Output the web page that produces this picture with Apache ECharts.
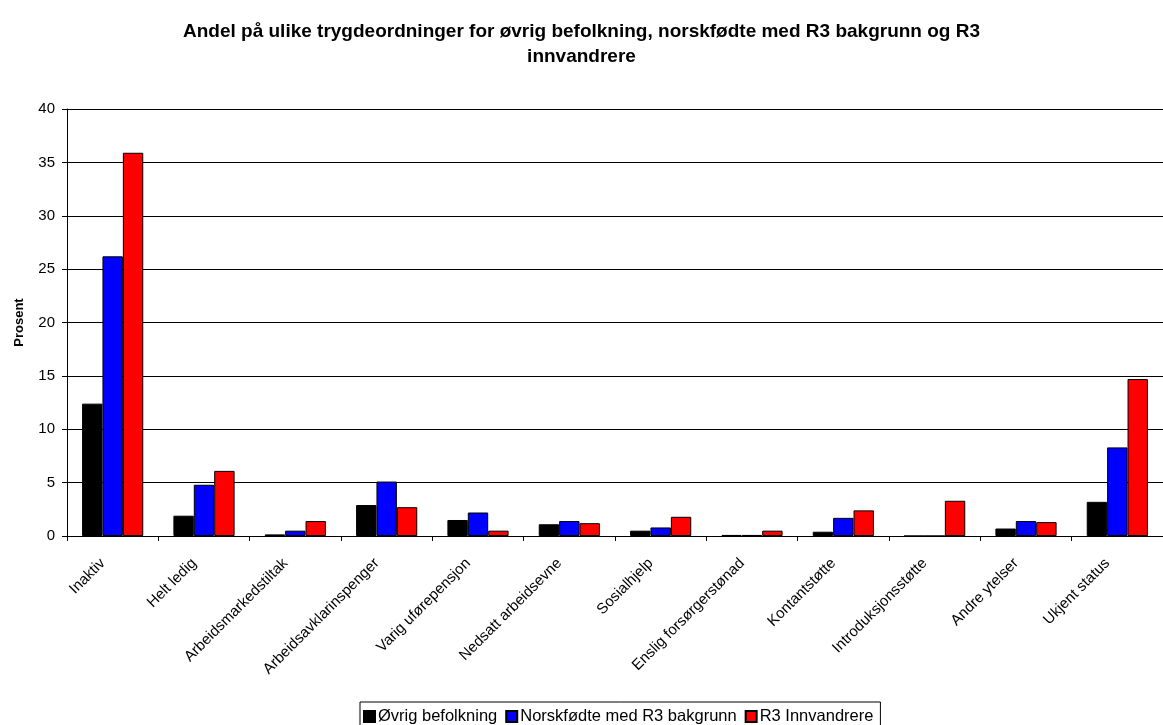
<!DOCTYPE html>
<html>
<head>
<meta charset="utf-8">
<script src="https://cdn.jsdelivr.net/npm/echarts@6/dist/echarts.min.js"></script>
<style>
  html, body { margin: 0; padding: 0; background: #fff; }
  #chart { width: 1163px; height: 725px; }
</style>
</head>
<body>
<div id="chart"></div>
<script>
const categories = ['Inaktiv', 'Helt ledig', 'Arbeidsmarkedstiltak', 'Arbeidsavklarinspenger',
  'Varig uførepensjon', 'Nedsatt arbeidsevne', 'Sosialhjelp', 'Enslig forsørgerstønad',
  'Kontantstøtte', 'Introduksjonsstøtte', 'Andre ytelser', 'Ukjent status'];
const ovrig = [12.4, 1.9, 0.15, 2.9, 1.5, 1.1, 0.5, 0.1, 0.4, 0, 0.7, 3.2];
const norskfodte = [26.2, 4.8, 0.5, 5.1, 2.2, 1.4, 0.8, 0.1, 1.7, 0, 1.4, 8.3];
const innvandrere = [35.9, 6.1, 1.4, 2.7, 0.5, 1.2, 1.8, 0.5, 2.4, 3.3, 1.3, 14.7];
const yTicks = { min: 0, max: 40, interval: 5 };

const font = 'Liberation Sans, Arial, sans-serif';
const chart = echarts.init(document.getElementById('chart'));

function bar(name, data, color) {
  return {
    name: name,
    type: 'bar',
    data: data,
    barGap: '0%',
    barCategoryGap: '33%',
    itemStyle: { color: color, borderColor: '#000', borderWidth: 1 }
  };
}

chart.setOption({
  animation: false,
  textStyle: { fontFamily: font },
  title: {
    text: 'Andel på ulike trygdeordninger for øvrig befolkning, norskfødte med R3 bakgrunn og R3\ninnvandrere',
    left: 'center',
    top: 14,
    textStyle: { fontSize: 19, fontWeight: 'bold', color: '#000', lineHeight: 25, fontFamily: font }
  },
  legend: {
    top: 702,
    left: 360,
    icon: 'rect',
    itemWidth: 11,
    itemHeight: 11,
    itemGap: 8,
    padding: [6, 7, 6, 3],
    borderColor: '#000',
    borderWidth: 1,
    textStyle: { fontSize: 16.5, color: '#000', padding: [0, 0, 0, -2] },
    data: ['Øvrig befolkning', 'Norskfødte med R3 bakgrunn', 'R3 Innvandrere']
  },
  grid: { left: 67, right: -11, top: 109, bottom: 189 },
  xAxis: {
    type: 'category',
    data: categories,
    axisLine: { lineStyle: { color: '#000' } },
    axisTick: { show: true, length: 5, lineStyle: { color: '#000' } },
    axisLabel: { rotate: 45, fontSize: 15, color: '#000', margin: 15, interval: 0, padding: [0, 14, 0, 0] }
  },
  yAxis: {
    type: 'value',
    min: yTicks.min,
    max: yTicks.max,
    interval: yTicks.interval,
    name: 'Prosent',
    nameLocation: 'middle',
    nameGap: 41,
    nameRotate: 90,
    nameTextStyle: { fontSize: 13, fontWeight: 'bold', color: '#000' },
    axisLine: { show: true, lineStyle: { color: '#000' } },
    axisTick: { show: true, length: 5, lineStyle: { color: '#000' } },
    axisLabel: { fontSize: 15, color: '#000', margin: 12 },
    splitLine: { lineStyle: { color: '#000', width: 1 } }
  },
  series: [
    bar('Øvrig befolkning', ovrig, '#000000'),
    bar('Norskfødte med R3 bakgrunn', norskfodte, '#0000ff'),
    bar('R3 Innvandrere', innvandrere, '#ff0000')
  ]
});
</script>
</body>
</html>
